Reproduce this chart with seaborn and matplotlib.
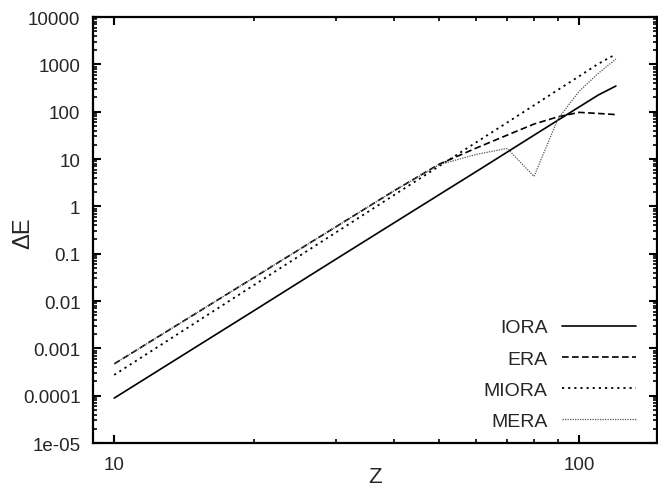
import numpy as np
import pandas as pd
import matplotlib
matplotlib.use("Agg")
import matplotlib.pyplot as plt
import seaborn as sns
from matplotlib.ticker import LogLocator, NullFormatter, FixedLocator, FixedFormatter

# values
z = [10, 20, 30, 40, 50, 60, 70, 80, 90, 100, 110, 120]
iora = [8.9e-5, 6.3e-3, 0.077, 0.45, 1.77, 5.4, 14.0, 32, 66, 126, 226, 350]
era = [4.7e-4, 0.0316, 0.372, 2.14, 7.8, 17, 32, 55, 78, 97, 92, 87]
miora = [2.75e-4, 0.0219, 0.282, 1.74, 7.1, 22.4, 59, 137, 289, 562, 1030, 1650]
mera = [4.7e-4, 0.0316, 0.372, 2.14, 7.6, 12.5, 16.8, 4.3, 70, 270, 650, 1300]

ytick_vals = [1e4, 1e3, 1e2, 1e1, 1, 0.1, 0.01, 0.001, 0.0001, 1e-5]
ytick_labels = ["10000", "1000", "100", "10", "1", "0.1", "0.01", "0.001", "0.0001", "1e-05"]
xtick_vals = [10, 100]
xtick_labels = ["10", "100"]

df = pd.DataFrame({"Z": z, "IORA": iora, "ERA": era, "MIORA": miora, "MERA": mera})

sns.set_style("ticks")
plt.rcParams["font.family"] = ["Liberation Sans", "DejaVu Sans"]

fig = plt.figure(figsize=(6.58, 4.89), dpi=100)
ax = fig.add_axes([0.1413, 0.092, 0.857, 0.871])

sns.lineplot(data=df, x="Z", y="IORA", ax=ax, color="black", lw=1.2, label="IORA")
sns.lineplot(data=df, x="Z", y="ERA", ax=ax, color="black", lw=1.2, label="ERA")
sns.lineplot(data=df, x="Z", y="MIORA", ax=ax, color="black", lw=1.3, label="MIORA")
sns.lineplot(data=df, x="Z", y="MERA", ax=ax, color="#555555", lw=0.9, label="MERA")

lines = ax.get_lines()
lines[1].set_dashes([4, 2])
lines[2].set_dashes([1.2, 2.2])
lines[3].set_dashes([1, 1])

ax.set_xscale("log")
ax.set_yscale("log")
ax.set_xlim(9, 147)
ax.set_ylim(1e-5, 1e4)

ax.yaxis.set_major_locator(FixedLocator(ytick_vals))
ax.yaxis.set_major_formatter(FixedFormatter(ytick_labels))
ax.yaxis.set_minor_locator(LogLocator(base=10, subs=np.arange(2, 10), numticks=20))
ax.yaxis.set_minor_formatter(NullFormatter())
ax.xaxis.set_major_locator(FixedLocator(xtick_vals))
ax.xaxis.set_major_formatter(FixedFormatter(xtick_labels))
ax.xaxis.set_minor_locator(LogLocator(base=10, subs=np.arange(2, 10), numticks=20))
ax.xaxis.set_minor_formatter(NullFormatter())

ax.tick_params(which="both", direction="in", top=True, right=True, labelsize=13.5,
               color="black")
ax.tick_params(axis="y", pad=9)
ax.tick_params(axis="x", pad=9)
ax.tick_params(which="major", length=6, width=1.5)
ax.tick_params(which="minor", length=3, width=1.2)
for s in ax.spines.values():
    s.set_linewidth(1.6)
    s.set_color("black")

ax.set_xlabel("Z", fontsize=16, va="center")
ax.xaxis.set_label_coords(0.5, -0.079)
ax.set_ylabel("ΔE", fontsize=17, va="center")
ax.yaxis.set_label_coords(-0.124, 0.495)

ax.legend(loc="lower right", bbox_to_anchor=(0.977, 0.012), borderaxespad=0,
          frameon=False, markerfirst=False, handlelength=3.8, fontsize=14,
          labelspacing=0.7, handletextpad=0.75)

fig.savefig("out.png", dpi=100)
